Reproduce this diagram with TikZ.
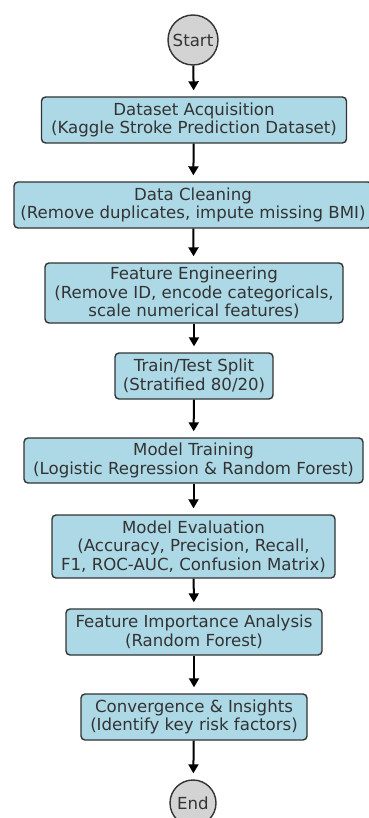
\documentclass[tikz,border=0pt]{standalone}
\usepackage{fontspec}
\setmainfont{DejaVu Sans}
\usetikzlibrary{arrows.meta}
\definecolor{boxblue}{HTML}{ADD8E6}
\definecolor{termgray}{HTML}{D3D3D3}
\definecolor{edgegray}{HTML}{333333}

\begin{document}
\begin{tikzpicture}[x=1pt,y=-1pt,
  every node/.style={align=center,font=\fontsize{16.6}{18.5}\selectfont,text=edgegray},
  stage/.style={draw=edgegray,line width=1.4pt,fill=boxblue,rounded corners=4pt,inner sep=0pt,minimum height=46pt},
  term/.style={draw=edgegray,line width=1.4pt,fill=termgray,circle,inner sep=0pt},
  flow/.style={-{Triangle[length=9pt,width=10pt]},line width=2pt,shorten >=6pt}]
%================================================================
%	Frame
\useasboundingbox (0,0) rectangle (368,818);
%================================================================
%	Nodes
\node[style=term,minimum size=50pt] (start) at (193,40) {Start};
%----------------------------------------------------------------
\node[style=stage,minimum width=305pt] (acq) at (194,120) {Dataset Acquisition\\(Kaggle Stroke Prediction Dataset)};
\node[style=stage,minimum width=358pt] (clean) at (193,205) {Data Cleaning\\(Remove duplicates, impute missing BMI)};
\node[style=stage,minimum width=298pt,minimum height=60pt] (feat) at (194,293) {Feature Engineering\\(Remove ID, encode categoricals,\\scale numerical features)};
\node[style=stage,minimum width=158pt] (split) at (194,376) {Train/Test Split\\(Stratified 80/20)};
\node[style=stage,minimum width=339pt,minimum height=45pt] (train) at (193.5,460.5) {Model Training\\(Logistic Regression \& Random Forest)};
\node[style=stage,minimum width=283pt,minimum height=63pt] (eval) at (193.5,546.5) {Model Evaluation\\(Accuracy, Precision, Recall,\\F1, ROC-AUC, Confusion Matrix)};
\node[style=stage,minimum width=256pt] (imp) at (194,632) {Feature Importance Analysis\\(Random Forest)};
\node[style=stage,minimum width=226pt] (ins) at (194,717) {Convergence \& Insights\\(Identify key risk factors)};
%----------------------------------------------------------------
\node[style=term,minimum size=46pt] (end) at (193,803) {End};
%================================================================
%	Lines
\draw[flow] (start) -- (acq);
\draw[flow] (acq) -- (clean);
\draw[flow] (clean) -- (feat);
\draw[flow] (feat) -- (split);
\draw[flow] (split) -- (train);
\draw[flow] (train) -- (eval);
\draw[flow] (eval) -- (imp);
\draw[flow] (imp) -- (ins);
\draw[flow] (ins) -- (end);
%================================================================
\end{tikzpicture}
\end{document}
